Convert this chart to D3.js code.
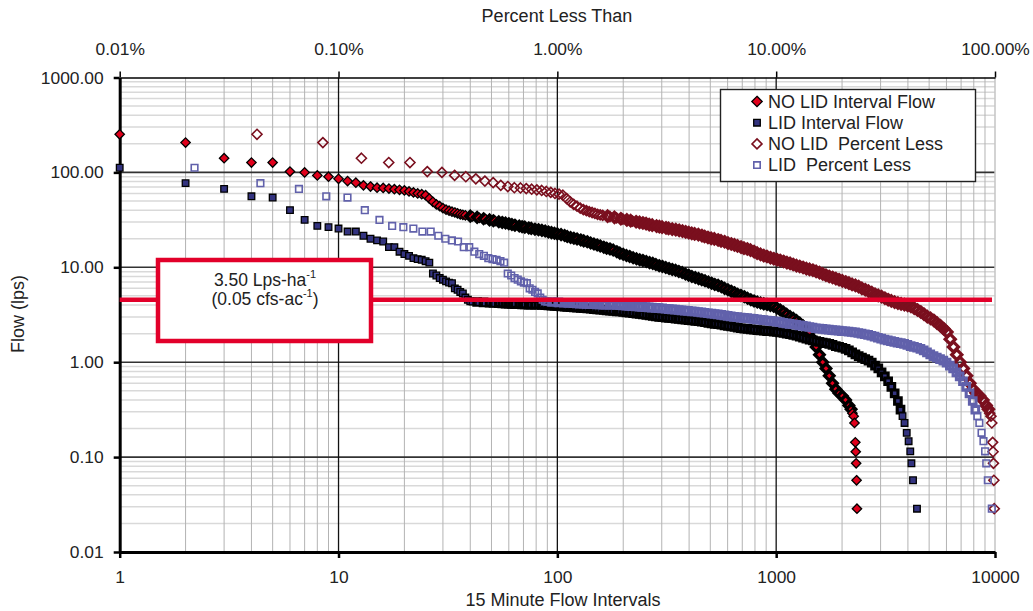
<!DOCTYPE html>
<html>
<head>
<meta charset="utf-8">
<script src="https://cdn.jsdelivr.net/npm/d3@7"></script>
<style>
  body { margin: 0; background: #fff; }
  svg { display: block; font-family: "Liberation Sans", Arial, sans-serif; }
</style>
</head>
<body>
<svg id="chart" width="1033" height="611"></svg>
<script>
// ranked 15 minute flows (rank, lps)
const noLidCurve = [
  [1,252],[2,206],[3,141],[4,127],[5,127],[6,102],[7,100],[8,93],[9,90],[10,85.5],
  [11,81],[12,78],[13,73],[14,71],[15,69],[16,68.5],[17,67.5],[18,66.5],[19,65.5],[20,64.5],
  [21,63],[22,61.5],[23,60],[24,59],[25,57.5],[26,53],[27,49],[28,46],[29,44],[30,42],
  [31,40.5],[32,39.5],[33,38.5],[34,37.8],[35,37],[36,36.2],[37,35.7],[38,35.3],[40,34.6],[41,34.3],
  [43,33.6],[44,33.1],[46,32.5],[47,32.2],[49,31.6],[51,31],[52,30.7],[54,30.2],[56,29.7],[58,29.3],
  [60,28.8],[62,28.2],[64,27.8],[67,27.2],[69,26.8],[71,26.5],[74,26],[76,25.7],[79,25.2],[82,24.9],
  [85,24.5],[88,24.1],[91,23.6],[94,23.2],[97,22.8],[100,22.5],[104,22.1],[108,21.6],[111,21.1],[115,20.6],
  [119,20.2],[123,19.9],[128,19.4],[132,19],[137,18.6],[142,18],[147,17.6],[152,17.2],[157,16.8],[163,16.3],
  [168,15.9],[174,15.6],[180,15.2],[187,14.6],[193,14.1],[200,13.7],[207,13.3],[214,13],[222,12.6],[230,12.3],
  [238,12],[246,11.8],[255,11.5],[264,11.2],[273,11],[282,10.7],[292,10.4],[302,10.2],[313,9.95],[324,9.7],
  [335,9.5],[347,9.3],[359,9.05],[372,8.8],[385,8.5],[398,8.25],[412,8],[427,7.8],[442,7.6],[457,7.4],
  [473,7.2],[490,7],[507,6.8],[524,6.6],[543,6.45],[562,6.25],[581,6],[602,5.8],[623,5.6],[645,5.4],
  [667,5.2],[690,5.05],[715,4.9],[740,4.72],[766,4.55],[792,4.42],[820,4.3],[849,4.2],[878,4.12],[909,4.05],
  [941,3.97],[974,3.88],[1008,3.72],[1043,3.55],[1080,3.38],[1117,3.2],[1157,3.02],[1197,2.9],[1239,2.75],[1282,2.58],
  [1327,2.42],[1374,2.25],[1422,2.08],[1472,1.75],[1523,1.45],[1577,1.2],[1632,1],[1689,0.86],[1748,0.72],[1809,0.6],
  [1873,0.52],[1938,0.47],[2006,0.44],[2076,0.4],[2149,0.35],[2200,0.32],[2230,0.29],[2260,0.27],[2280,0.229],[2300,0.143],
  [2310,0.114],[2320,0.086],[2330,0.057],[2340,0.0286]
];

const lidCurve = [
  [1,112],[2,77],[3,67],[4,56],[5,54.3],[6,40],[7,31.6],[8,27.3],[9,26.5],[10,25.6],
  [11,23.8],[12,23.8],[13,21.5],[14,20],[15,19.2],[16,18.7],[17,16.3],[18,16.3],[19,14.6],[20,13.8],
  [21,13.2],[22,12.5],[23,12.2],[24,12],[25,11.6],[26,11.2],[27,8.6],[28,8.2],[29,7.7],[30,7.4],
  [31,7.1],[32,6.9],[33,6.8],[34,6],[35,5.8],[36,5.5],[37,5.3],[38,4.8],[39,4.55],[40,4.37],
  [41,4.35],[43,4.31],[44,4.3],[46,4.27],[47,4.25],[49,4.23],[51,4.21],[52,4.2],[54,4.18],[56,4.16],
  [58,4.14],[60,4.13],[62,4.11],[64,4.1],[67,4.08],[69,4.07],[71,4.06],[74,4.05],[76,4.04],[79,4.04],
  [82,4.03],[85,4.01],[88,3.99],[91,3.97],[94,3.95],[97,3.92],[100,3.9],[104,3.87],[108,3.85],[111,3.83],
  [115,3.8],[119,3.78],[123,3.76],[128,3.74],[132,3.72],[137,3.69],[142,3.66],[147,3.63],[152,3.61],[157,3.58],
  [163,3.55],[168,3.52],[174,3.5],[180,3.47],[187,3.44],[193,3.42],[200,3.38],[207,3.35],[214,3.32],[222,3.28],
  [230,3.25],[238,3.22],[246,3.19],[255,3.15],[264,3.11],[273,3.08],[282,3.04],[292,3],[302,2.98],[313,2.95],
  [324,2.93],[335,2.91],[347,2.88],[359,2.86],[372,2.83],[385,2.8],[398,2.77],[412,2.75],[427,2.72],[442,2.7],
  [457,2.67],[473,2.64],[490,2.6],[507,2.57],[524,2.54],[543,2.51],[562,2.48],[581,2.44],[602,2.41],[623,2.38],
  [645,2.35],[667,2.31],[690,2.28],[715,2.26],[740,2.24],[766,2.22],[792,2.2],[820,2.18],[849,2.16],[878,2.15],
  [909,2.13],[941,2.12],[974,2.1],[1008,2.08],[1043,2.06],[1080,2.03],[1117,2],[1157,1.97],[1197,1.94],[1239,1.9],
  [1282,1.86],[1327,1.81],[1374,1.77],[1422,1.73],[1472,1.7],[1523,1.67],[1577,1.64],[1632,1.61],[1689,1.59],[1748,1.56],
  [1809,1.52],[1873,1.48],[1938,1.45],[2006,1.42],[2076,1.38],[2149,1.33],[2224,1.27],[2302,1.21],[2383,1.16],[2466,1.12],
  [2552,1.08],[2642,1.04],[2734,0.99],[2830,0.92],[2929,0.86],[3032,0.78],[3138,0.71],[3248,0.63],[3361,0.55],[3479,0.47],
  [3600,0.39],[3700,0.316],[3780,0.27],[3860,0.229],[3950,0.18],[4030,0.147],[4100,0.115],[4150,0.086],[4220,0.057],[4400,0.0286]
];

// record counts used for "percent less than"
const noLidTotal = 2358;
const lidTotal = 4550;

const flowTicks = [0.01, 0.1, 1, 10, 100, 1000];
const intervalTicks = [1, 10, 100, 1000, 10000];
const percentTicks = [0.01, 0.1, 1, 10, 100];
const targetFlow = 4.55;
const seriesNames = ["NO LID Interval Flow", "LID Interval Flow", "NO LID  Percent Less", "LID  Percent Less"];

const plotL = 119.7, plotR = 995, plotT = 77.5, plotB = 552;

const svg = d3.select("#chart");

const x = d3.scaleLog().domain([1, 10000]).range([plotL, plotR]);
const xPct = d3.scaleLog().domain([0.01, 100]).range([plotL, plotR]);
const y = d3.scaleLog().domain([0.01, 1000]).range([plotB, plotT]);

// minor grid values
const minorX = [], minorY = [];
[1, 10, 100, 1000].forEach(d => d3.range(2, 10).forEach(k => minorX.push(d * k)));
[0.01, 0.1, 1, 10, 100].forEach(d => d3.range(2, 10).forEach(k => minorY.push(d * k)));

const grid = svg.append("g");
grid.selectAll(".hmin").data(minorY).join("line")
    .attr("x1", plotL).attr("x2", plotR)
    .attr("y1", d => y(d)).attr("y2", d => y(d))
    .attr("stroke", "#d9d9d9").attr("stroke-width", 1.5);
grid.selectAll(".vmin").data(minorX).join("line")
    .attr("x1", d => x(d)).attr("x2", d => x(d))
    .attr("y1", plotT).attr("y2", plotB)
    .attr("stroke", "#b3b3b3").attr("stroke-width", 1);
grid.selectAll(".hmaj").data(flowTicks.slice(1, 5)).join("line")
    .attr("x1", plotL).attr("x2", plotR)
    .attr("y1", d => y(d)).attr("y2", d => y(d))
    .attr("stroke", "#333").attr("stroke-width", 1.6);
grid.selectAll(".vmaj").data(intervalTicks.slice(1, 4)).join("line")
    .attr("x1", d => x(d)).attr("x2", d => x(d))
    .attr("y1", plotT).attr("y2", plotB)
    .attr("stroke", "#111").attr("stroke-width", 1.3);
grid.append("line")
    .attr("x1", plotR).attr("x2", plotR).attr("y1", plotT).attr("y2", plotB)
    .attr("stroke", "#c4c4c4").attr("stroke-width", 1.5);

// axes
function styleAxis(g, domainW, tickW) {
  g.attr("font-family", null).attr("font-size", null);
  g.select(".domain").attr("stroke", "#000").attr("stroke-width", domainW);
  g.selectAll(".tick line").attr("stroke", "#000").attr("stroke-width", tickW);
  g.selectAll(".tick text").attr("fill", "#222").style("font-size", "17.4px");
}

svg.append("g")
    .attr("transform", `translate(0,${plotT})`)
    .call(d3.axisTop(xPct).tickValues(percentTicks).tickFormat(d => d.toFixed(2) + "%")
      .tickSize(6).tickSizeOuter(0).tickPadding(17))
    .call(g => styleAxis(g, 1.6, 1.5));

svg.append("g")
    .attr("transform", `translate(0,${plotB})`)
    .call(d3.axisBottom(x).tickValues(intervalTicks).tickFormat(d3.format("d"))
      .tickSize(6).tickSizeOuter(0).tickPadding(13))
    .call(g => styleAxis(g, 3, 2.5));

svg.append("g")
    .attr("transform", `translate(${plotL},0)`)
    .call(d3.axisLeft(y).tickValues(flowTicks).tickFormat(d3.format(".2f"))
      .tickSize(6).tickSizeOuter(0).tickPadding(10))
    .call(g => styleAxis(g, 3, 2.5));

// axis titles
svg.append("text").attr("x", 557).attr("y", 22).attr("text-anchor", "middle")
    .attr("fill", "#222").style("font-size", "18px").text("Percent Less Than");
svg.append("text").attr("x", 563).attr("y", 606).attr("text-anchor", "middle")
    .attr("fill", "#222").style("font-size", "18px").text("15 Minute Flow Intervals");
svg.append("text").attr("transform", "translate(24,314) rotate(-90)").attr("text-anchor", "middle")
    .attr("fill", "#222").style("font-size", "18px").text("Flow (lps)");

// marker shapes
const diamond = r => `M0,${-r}L${r},0L0,${r}L${-r},0Z`;
const square = s => `M${-s / 2},${-s / 2}h${s}v${s}h${-s}Z`;

// where one sample stands for several ranked intervals, the original markers pile up:
// give those samples a heavier outline so the run reads as a solid band
const series = [
  { data: noLidCurve, px: d => x(d[0]), shape: diamond(4.7), fill: "#e0001b", stroke: "#000", sw: 1.3, swDense: 3.3 },
  { data: lidCurve, px: d => x(d[0]), shape: square(6.6), fill: "#33337f", stroke: "#000", sw: 1.3, swDense: 3.1 },
  { data: noLidCurve, px: d => xPct(d[0] / noLidTotal * 100), shape: diamond(5), fill: "none", stroke: "#7a0f1e", sw: 1.6, swDense: 3.3 },
  { data: lidCurve, px: d => xPct(d[0] / lidTotal * 100), shape: square(6.6), fill: "none", stroke: "#6161ab", sw: 1.6, swDense: 3.1 }
];

const marks = svg.append("g");
series.forEach(s => {
  marks.append("g").selectAll("path").data(s.data).join("path")
      .attr("transform", d => `translate(${s.px(d)},${y(d[1])})`)
      .attr("d", s.shape)
      .attr("fill", s.fill)
      .attr("stroke", s.stroke)
      .attr("stroke-linejoin", "miter")
      .attr("stroke-width", (d, i) => i > 0 && d[0] - s.data[i - 1][0] >= 2 && d[1] > 0.3 ? s.swDense : s.sw);
});

// target release line and label
const red = "#e2002a";
svg.append("line")
    .attr("x1", plotL).attr("x2", plotR - 3)
    .attr("y1", y(targetFlow)).attr("y2", y(targetFlow))
    .attr("stroke", red).attr("stroke-width", 4.3);

svg.append("rect")
    .attr("x", 158).attr("y", 260).attr("width", 213).attr("height", 81)
    .attr("fill", "#fff").attr("stroke", red).attr("stroke-width", 4.5);

const line1 = svg.append("text").attr("x", 265).attr("y", 285.5).attr("text-anchor", "middle")
    .attr("fill", "#222").style("font-size", "17.5px");
line1.append("tspan").text("3.50 Lps-ha");
line1.append("tspan").attr("dy", -7.5).style("font-size", "11px").text("-1");

const line2 = svg.append("text").attr("x", 265).attr("y", 304.5).attr("text-anchor", "middle")
    .attr("fill", "#222").style("font-size", "17.5px");
line2.append("tspan").text("(0.05 cfs-ac");
line2.append("tspan").attr("dy", -7.5).style("font-size", "11px").text("-1");
line2.append("tspan").attr("dy", 7.5).text(")");

// legend
const legend = svg.append("g");
legend.append("rect")
    .attr("x", 720.5).attr("y", 89.5).attr("width", 255).attr("height", 92)
    .attr("fill", "#fff").attr("stroke", "#222").attr("stroke-width", 1.4);

const legendShapes = [diamond(5.2), square(6.6), diamond(5), square(6.4)];
seriesNames.forEach((name, i) => {
  const rowY = 101.5 + i * 21.2;
  legend.append("path")
      .attr("transform", `translate(757,${rowY})`)
      .attr("d", legendShapes[i])
      .attr("fill", series[i].fill)
      .attr("stroke", series[i].stroke)
      .attr("stroke-width", series[i].sw);
  legend.append("text")
      .attr("x", 768).attr("y", rowY + 6.2)
      .attr("fill", "#222").style("font-size", "18px").style("white-space", "pre")
      .text(name);
});
</script>
</body>
</html>
